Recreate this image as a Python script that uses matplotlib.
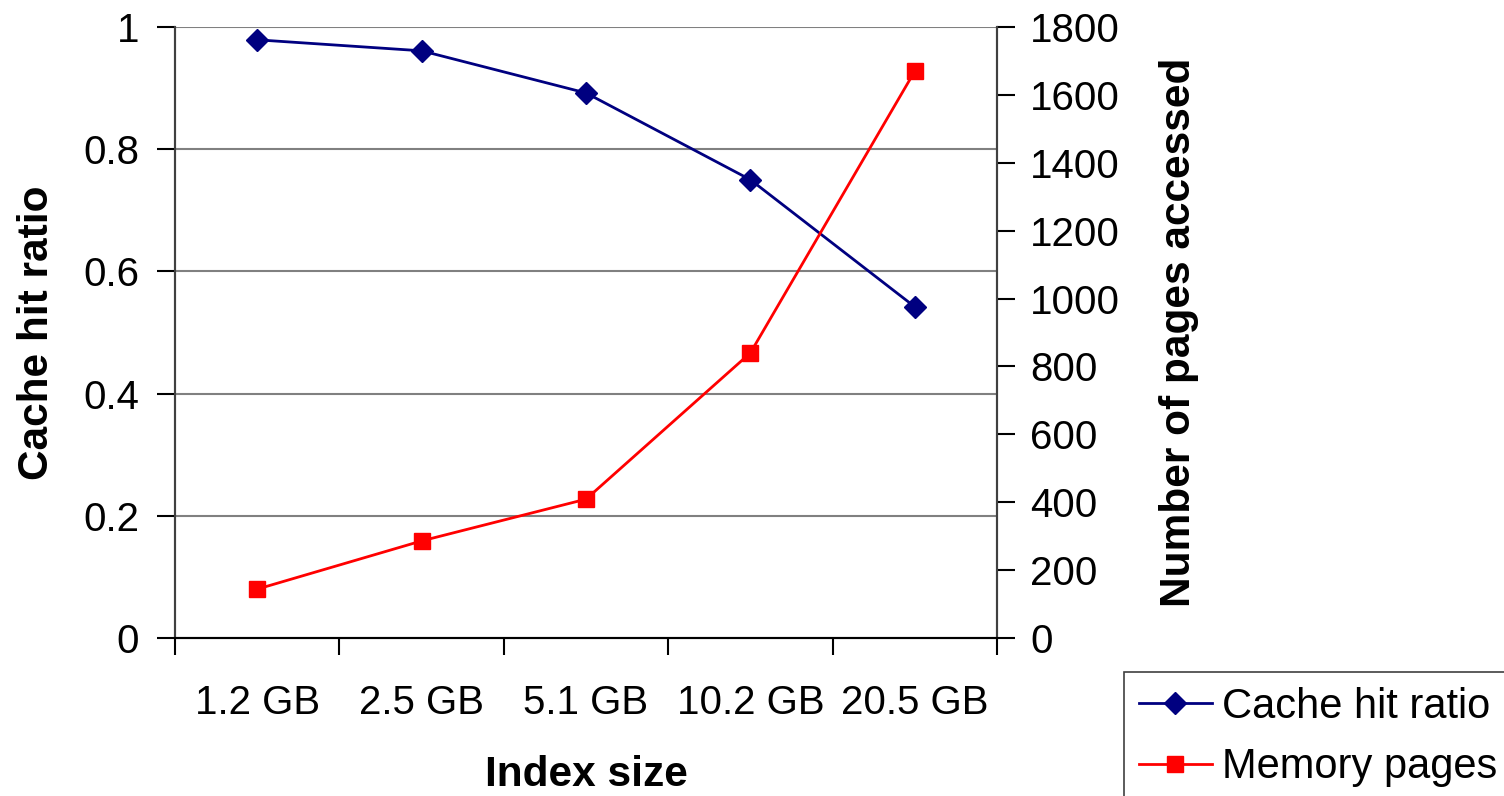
import numpy as np
import matplotlib
matplotlib.use("Agg")
import matplotlib.pyplot as plt

plt.rcParams['font.family'] = ['Liberation Sans', 'DejaVu Sans']

# data
sizes = ["1.2 GB", "2.5 GB", "5.1 GB", "10.2 GB", "20.5 GB"]
hit_ratio = [0.979, 0.961, 0.892, 0.750, 0.542]
mem_pages = [144, 286, 409, 840, 1670]

fig = plt.figure(figsize=(15.04, 7.96), dpi=100)
ax = fig.add_axes([0.1164, 0.1985, 0.5465, 0.7676])
ax2 = ax.twinx()

x = np.arange(len(sizes))

l1, = ax.plot(x, hit_ratio, color="#000080", lw=2, marker="D", ms=11,
              label="Cache hit ratio", zorder=3)
l2, = ax2.plot(x, mem_pages, color="#FF0000", lw=2, marker="s", ms=11,
               label="Memory pages", zorder=3)

ax.set_xlim(-0.5, len(sizes) - 0.5)
ax.set_ylim(0, 1)
ax2.set_ylim(0, 1800)

ax.set_yticks([0, 0.2, 0.4, 0.6, 0.8, 1])
ax.set_yticklabels(["0", "0.2", "0.4", "0.6", "0.8", "1"])
ax2.set_yticks(range(0, 1801, 200))

# grid lines
for v in [0.2, 0.4, 0.6, 0.8, 1.0]:
    ax.axhline(v, color="#808080", lw=1.5, zorder=1)

# category labels centred, tick marks on the boundaries
ax.set_xticks(x)
ax.set_xticklabels(sizes)
ax.set_xticks(np.arange(-0.5, len(sizes)), minor=True)
ax.tick_params(axis="x", which="major", length=0, pad=33, labelsize=29)
ax.tick_params(axis="x", which="minor", length=12, width=1.5, direction="out")
ax.tick_params(axis="y", length=13, width=1.5, labelsize=29, pad=13)
ax2.tick_params(axis="y", length=13, width=1.5, labelsize=29, pad=11)

for a in (ax, ax2):
    a.spines["top"].set_visible(False)
    a.spines["left"].set_color("#404040")
    a.spines["right"].set_color("#404040")
    a.spines["left"].set_linewidth(1.5)
    a.spines["right"].set_linewidth(1.5)
    a.spines["bottom"].set_linewidth(1.5)

ax.set_xlabel("Index size", fontsize=30.5, fontweight="bold", labelpad=24)
ax.set_ylabel("Cache hit ratio", fontsize=30.5, fontweight="bold", labelpad=19)
ax2.set_ylabel("Number of pages accessed", fontsize=30.5, fontweight="bold", labelpad=28)

leg = fig.legend(handles=[l1, l2], loc="upper left",
                 bbox_to_anchor=(1124 / 1504, 1 - 672 / 796),
                 fontsize=30, frameon=True, fancybox=False, framealpha=1,
                 edgecolor="#404040", handlelength=1.75, handletextpad=0.25,
                 borderpad=0.35, labelspacing=0.5, borderaxespad=0)
leg.get_frame().set_linewidth(1.2)

fig.savefig("out.png", dpi=100)
